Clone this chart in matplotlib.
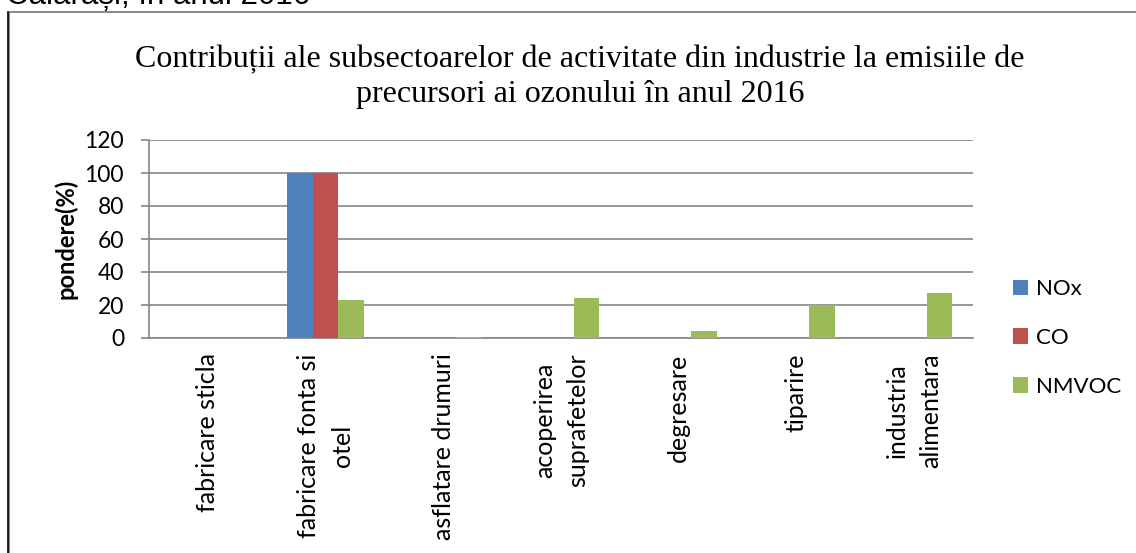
import matplotlib
matplotlib.use("Agg")
import matplotlib.pyplot as plt
import numpy as np

categories = ["fabricare sticla", "fabricare fonta si\notel", "asflatare drumuri",
              "acoperirea\nsuprafetelor", "degresare", "tiparire", "industria\nalimentara"]
series_names = ["NOx", "CO", "NMVOC"]
nox = [0, 100, 0, 0, 0, 0, 0]
co = [0, 100, 0, 0, 0, 0, 0]
nmvoc = [0, 23, 0.4, 24, 4, 20, 27]
colors = ["#4F81BD", "#C0504D", "#9BBB59"]
yticks = [0, 20, 40, 60, 80, 100, 120]

W, H = 1136, 553
fig = plt.figure(figsize=(W / 100, H / 100), dpi=100)
fig.patch.set_facecolor("white")

# chart frame
frame = plt.Rectangle((8.5 / W, -0.1), 1.2, 1 - 12.5 / H + 0.1, transform=fig.transFigure,
                      fill=False, edgecolor="#808080", linewidth=1.3)
fig.add_artist(frame)
fig.add_artist(plt.Line2D([8 / W, 8 / W], [0, 1 - 12 / H], transform=fig.transFigure,
                          color="black", linewidth=1.2))

# cropped header text (only its lower part is visible in the reference)
fig.text(6 / W, 1 - 4 / H, "Călărași, în anul 2016", family="Liberation Sans",
         fontsize=22.5, ha="left", va="baseline")

ax = fig.add_axes([149 / W, 1 - 338 / H, (973 - 149) / W, (338 - 140) / H])
x = np.arange(len(categories))
bw = 0.65 / 3
for i, (vals, name) in enumerate(zip([nox, co, nmvoc], series_names)):
    ax.bar(x + (i - 1) * bw, vals, width=bw, color=colors[i], label=name, zorder=3)

ax.set_xlim(-0.5, len(categories) - 0.5)
ax.set_ylim(0, 120)
ax.set_yticks(yticks)
ax.set_yticklabels([str(v) for v in yticks], family="Lato", fontsize=16.5)
ax.yaxis.grid(True, color="#868686", linewidth=1.2, zorder=0)
ax.set_xticks(x)
ax.set_xticklabels(categories, rotation=90, family="Lato", fontsize=18,
                   va="top", ha="center", multialignment="center", linespacing=1.55)
ax.tick_params(axis="x", length=0, pad=11)
ax.tick_params(axis="y", length=6, width=1.2, color="#868686", pad=12, direction="out")
for s in ["top", "right"]:
    ax.spines[s].set_visible(False)
ax.spines["left"].set_color("#868686")
ax.spines["bottom"].set_color("#868686")
ax.spines["left"].set_linewidth(1.2)
ax.spines["bottom"].set_linewidth(1.2)
ax.set_ylabel("pondere(%)", family="Lato", fontweight="bold", fontsize=17, labelpad=5)

fig.text(580 / W, 1 - 77 / H,
         "Contribuții ale subsectoarelor de activitate din industrie la emisiile de\nprecursori ai ozonului în anul 2016",
         family="Liberation Serif", fontsize=23, ha="center", va="center", linespacing=1.3)

leg = fig.legend(loc="upper left", bbox_to_anchor=(1013 / W, 1 - 279 / H),
                 frameon=False, prop={"family": "Lato", "size": 16},
                 borderpad=0, borderaxespad=0,
                 handlelength=0.68, handleheight=0.68, labelspacing=1.3, handletextpad=0.36)

fig.savefig("out.png", dpi=100, facecolor="white")
